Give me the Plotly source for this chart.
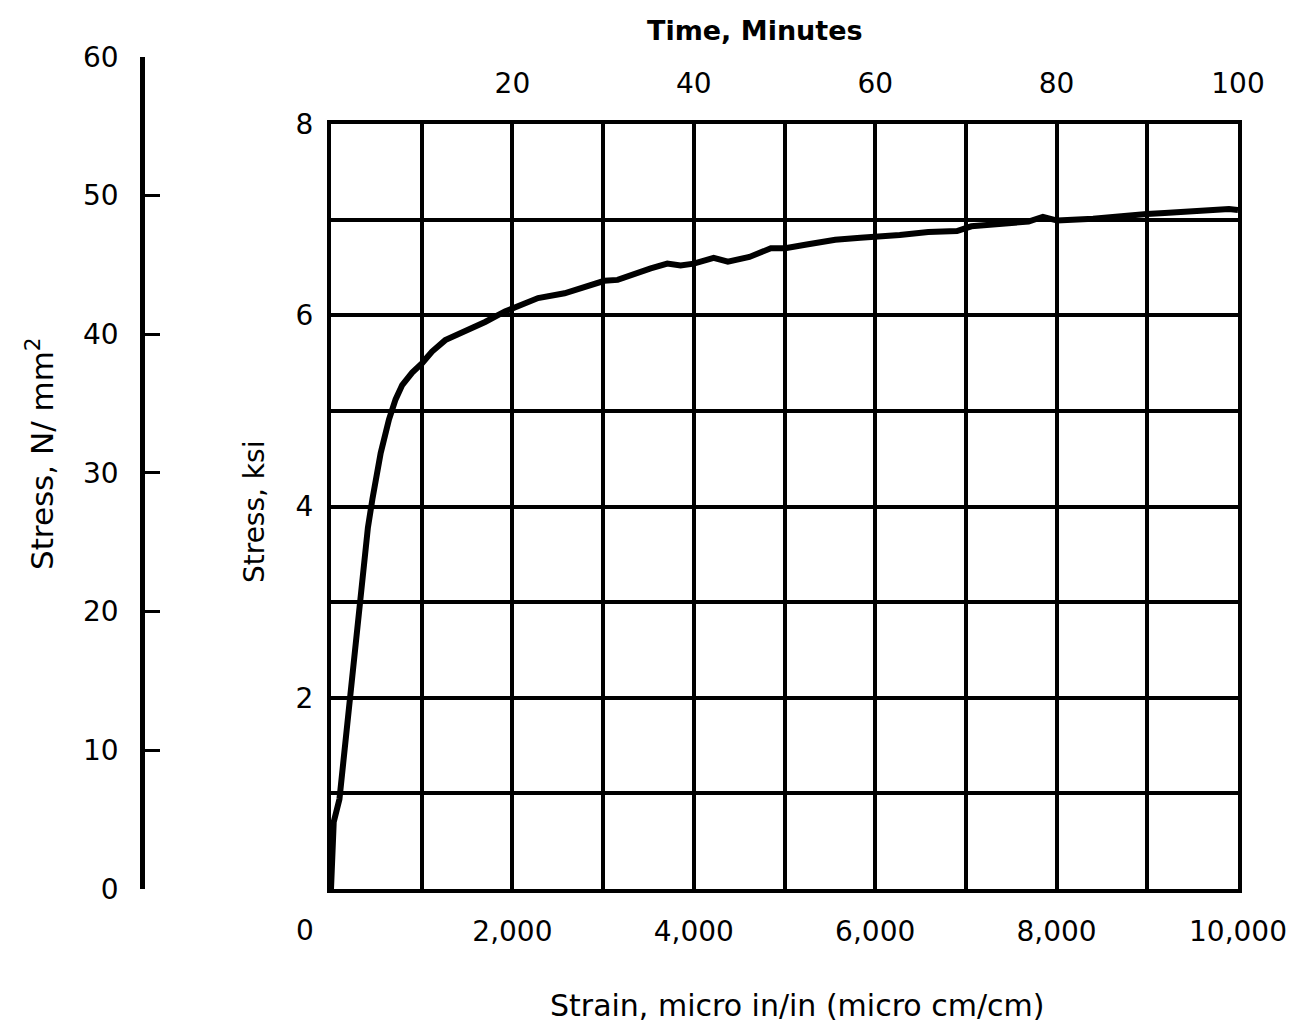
import plotly.graph_objects as go

# Stress-strain record (strain in micro in/in, stress in ksi)
strain = [0, 11, 30, 93, 130, 185, 241, 296, 352, 407, 457, 548, 639, 712, 785,
          895, 1005, 1114, 1260, 1479, 1699, 1918, 2137, 2283, 2575, 2795, 3014,
          3160, 3306, 3525, 3708, 3854, 4000, 4219, 4376, 4613, 4850, 5008, 5245,
          5560, 5837, 6034, 6271, 6586, 6902, 7060, 7415, 7691, 7849, 8007, 8402,
          8796, 8994, 9191, 9467, 9664, 9901, 10000]
stress_ksi = [0.0, 0.45, 0.70, 0.94, 1.26, 1.85, 2.34, 2.83, 3.32, 3.78, 4.08, 4.56,
              4.91, 5.12, 5.27, 5.40, 5.50, 5.62, 5.74, 5.83, 5.93, 6.04, 6.13, 6.18,
              6.23, 6.30, 6.36, 6.37, 6.42, 6.49, 6.54, 6.52, 6.54, 6.60, 6.56, 6.61,
              6.70, 6.70, 6.74, 6.79, 6.81, 6.82, 6.84, 6.87, 6.88, 6.93, 6.95, 6.98,
              7.03, 6.99, 7.01, 7.05, 7.06, 7.07, 7.09, 7.09, 7.11, 7.10]

strain_ticks = [2000, 4000, 6000, 8000, 10000]
strain_labels = ["2,000", "4,000", "6,000", "8,000", "10,000"]
ksi_ticks = [2, 4, 6, 8]
time_ticks = [20, 40, 60, 80, 100]
mpa_ticks = [0, 10, 20, 30, 40, 50, 60]

KSI_TO_MPA = 6.895
MINUTES_PER_STRAIN = 100 / 10000

W, H = 1308, 1031
FONT = "DejaVu Sans"


def fx(p):
    return p / W


def fy(p):
    return 1 - p / H


y_bottom, y_top = fy(889), fy(124)
ksi_max = 8
mpa_top = y_bottom + (y_top - y_bottom) * 60 / (ksi_max * KSI_TO_MPA)

fig = go.Figure()

# Main curve
fig.add_trace(go.Scatter(
    x=strain, y=stress_ksi, mode="lines",
    line=dict(color="black", width=6), hoverinfo="skip", showlegend=False,
    xaxis="x", yaxis="y"))

# Same record in minutes, carrying the top time scale
fig.add_trace(go.Scatter(
    x=[s * MINUTES_PER_STRAIN for s in strain], y=stress_ksi, mode="lines",
    line=dict(color="rgba(0,0,0,0)", width=0), hoverinfo="skip", showlegend=False,
    xaxis="x2", yaxis="y"))

# Same record in N/mm^2, carrying the separate SI stress scale
fig.add_trace(go.Scatter(
    x=strain, y=[s * KSI_TO_MPA for s in stress_ksi], mode="lines",
    line=dict(color="rgba(0,0,0,0)", width=0), hoverinfo="skip", showlegend=False,
    xaxis="x3", yaxis="y3"))

tick_font = dict(family=FONT, size=28, color="black")
grid = dict(showgrid=True, gridcolor="black", gridwidth=3.5)

fig.update_layout(
    width=W, height=H,
    margin=dict(l=0, r=0, t=0, b=0, autoexpand=False),
    paper_bgcolor="white", plot_bgcolor="white",
    showlegend=False,
    xaxis=dict(
        domain=[fx(331), fx(1238)], range=[0, 10000], anchor="y",
        tickvals=strain_ticks, ticktext=strain_labels, ticks="",
        ticklabelstandoff=14, tickfont=tick_font, automargin=False,
        minor=dict(tick0=0, dtick=1000, ticks="", **grid), **grid,
        showline=True, linecolor="black", linewidth=4, mirror=True,
        zeroline=False, fixedrange=True),
    xaxis2=dict(
        overlaying="x", side="top", anchor="y", range=[0, 100],
        tickvals=time_ticks, ticks="", ticklabelstandoff=24, tickfont=tick_font,
        automargin=False,
        showgrid=False, showline=False, zeroline=False, fixedrange=True),
    yaxis=dict(
        domain=[y_bottom, y_top], range=[0, ksi_max], anchor="x",
        tickvals=ksi_ticks, ticks="",
        ticklabelstandoff=8, tickfont=tick_font, automargin=False,
        minor=dict(tick0=0, dtick=1, ticks="", **grid), **grid,
        showline=True, linecolor="black", linewidth=4, mirror=True,
        zeroline=False, fixedrange=True),
    xaxis3=dict(
        domain=[fx(145), fx(160)], range=[0, 10000], anchor="y3",
        visible=False, showgrid=False, zeroline=False, fixedrange=True,
        automargin=False),
    yaxis3=dict(
        domain=[y_bottom, mpa_top], range=[0, 60], anchor="x3", side="left",
        tickvals=mpa_ticks, ticks="inside", ticklen=15, tickwidth=3, tickcolor="black",
        ticklabelstandoff=16, tickfont=tick_font, automargin=False,
        showgrid=False, showline=True, linecolor="black", linewidth=4.5,
        zeroline=False, fixedrange=True),
)

annotations = [
    dict(text="0", x=fx(305), y=fy(930), font=tick_font),
    dict(text="Strain, micro in/in (micro cm/cm)", x=fx(797), y=fy(1005),
         font=dict(family=FONT, size=30, color="black")),
    dict(text="<b>Time, Minutes</b>", x=fx(755), y=fy(30),
         font=dict(family=FONT, size=27, color="black")),
    dict(text="Stress, ksi", x=fx(255), y=fy(512), textangle=-90,
         font=dict(family=FONT, size=28, color="black")),
    dict(text="Stress, N/ mm<sup>2</sup>", x=fx(40), y=fy(454), textangle=-90,
         font=dict(family=FONT, size=31, color="black")),
]
for a in annotations:
    fig.add_annotation(xref="paper", yref="paper", showarrow=False,
                       xanchor="center", yanchor="middle", **a)

fig.write_html("out.html")
